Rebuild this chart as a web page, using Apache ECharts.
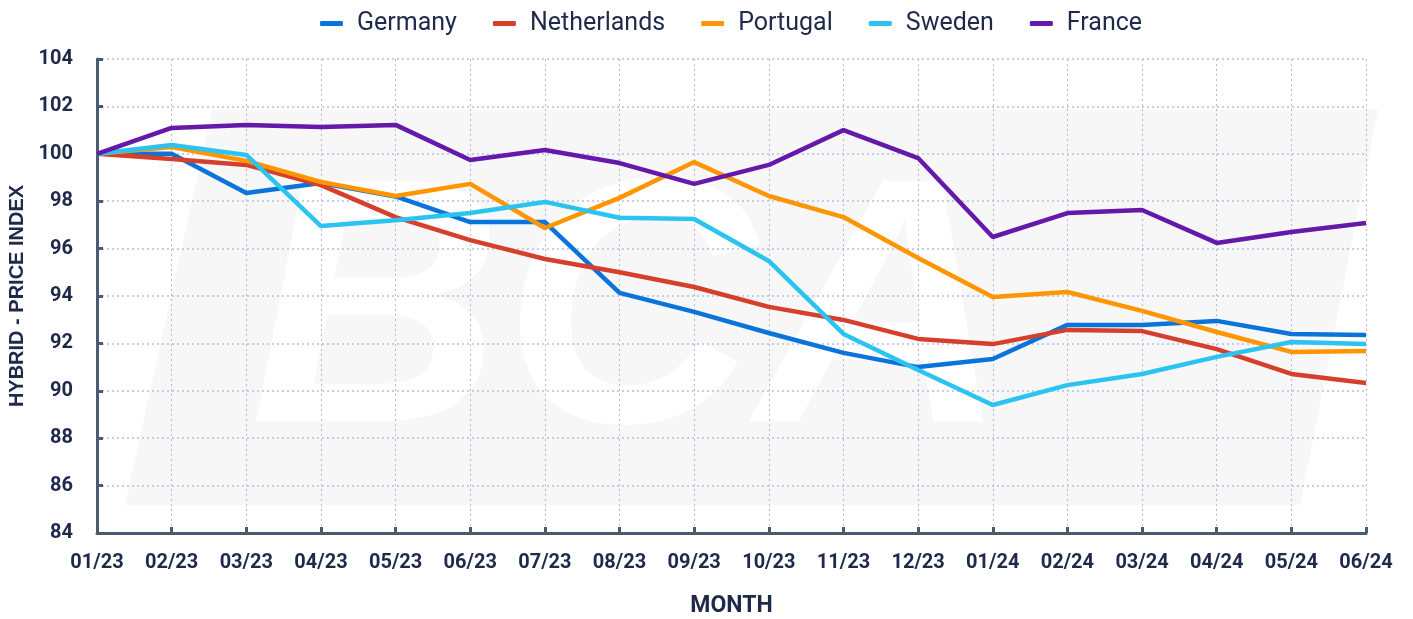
<!DOCTYPE html>
<html><head><meta charset="utf-8">
<script src="https://cdn.jsdelivr.net/npm/echarts@6/dist/echarts.min.js"></script>
<style>html,body{margin:0;padding:0;background:#fff}#c{width:1413px;height:619px}</style>
</head><body><div id="c"></div>
<script>
const months = ['01/23','02/23','03/23','04/23','05/23','06/23','07/23','08/23','09/23','10/23','11/23','12/23','01/24','02/24','03/24','04/24','05/24','06/24'];
const germany     = [100,100,98.35,98.77,98.2,97.12,97.12,94.13,93.33,92.44,91.6,91.0,91.34,92.78,92.78,92.95,92.4,92.35];
const netherlands = [100,99.78,99.53,98.68,97.33,96.36,95.56,95.0,94.38,93.54,92.99,92.19,91.97,92.57,92.52,91.76,90.71,90.33];
const portugal    = [100,100.29,99.7,98.81,98.22,98.73,96.87,98.14,99.65,98.22,97.33,95.6,93.96,94.17,93.37,92.48,91.64,91.68];
const sweden      = [100,100.37,99.95,96.95,97.2,97.5,97.97,97.3,97.25,95.48,92.4,90.88,89.4,90.24,90.71,91.43,92.06,91.97];
const france      = [100,101.09,101.22,101.13,101.22,99.74,100.16,99.61,98.73,99.53,101.0,99.82,96.49,97.5,97.63,96.24,96.7,97.08];
const seriesNames = ['Germany','Netherlands','Portugal','Sweden','France'];
const seriesData = [germany, netherlands, portugal, sweden, france];
const colors = ['#0a74da','#d63f2c','#ff9500','#2bc4f0','#6419ab'];

const chart = echarts.init(document.getElementById('c'));
const textColor = '#1f2a4a';
chart.setOption({
  animation: false,
  color: colors,
  graphic: [
    { type: 'polygon', z: -20, silent: true,
      shape: { points: [[212,110],[1378,110],[1300,505],[125,505]] },
      style: { fill: '#f7f7f7' } },
    { type: 'text', z: -19, silent: true, x: 250, y: 500,
      style: { text: 'BCA', font: 'italic 900 350px "Liberation Sans", Arial', fill: '#ffffff', verticalAlign: 'bottom' } }
  ],
  legend: {
    top: 6, left: 315, itemGap: 36, itemWidth: 23, itemHeight: 5, icon: 'roundRect',
    textStyle: { fontFamily: 'Roboto', fontSize: 25, color: textColor, padding: [0,0,0,9] }
  },
  grid: { left: 97, right: 47, top: 59, bottom: 86, containLabel: false, outerBoundsMode: 'none' },
  xAxis: {
    type: 'category', data: months, boundaryGap: false,
    name: 'MONTH', nameLocation: 'middle', nameGap: 62,
    nameTextStyle: { fontFamily: 'Roboto', fontWeight: 'bold', fontSize: 23, color: textColor },
    axisLine: { lineStyle: { color: '#4a5d70', width: 3 } },
    axisTick: { inside: true, length: 6, lineStyle: { color: '#4a5d70', width: 3 } },
    axisLabel: { margin: 20, fontFamily: 'Roboto', fontWeight: 'bold', fontSize: 20, color: textColor },
    splitLine: { show: true, lineStyle: { color: '#b7bccb', type: [2,3], width: 1 } }
  },
  yAxis: {
    type: 'value', min: 84, max: 104, interval: 2,
    name: 'HYBRID - PRICE INDEX', nameLocation: 'middle', nameGap: 69, nameRotate: 90,
    nameTextStyle: { fontFamily: '"Liberation Sans", Arial', fontWeight: 'bold', fontSize: 20, color: textColor },
    axisLine: { show: true, lineStyle: { color: '#4a5d70', width: 3 } },
    axisTick: { show: true, inside: true, length: 6, lineStyle: { color: '#4a5d70', width: 3 } },
    axisLabel: { margin: 24, fontFamily: 'Roboto', fontWeight: 'bold', fontSize: 20, color: textColor },
    splitLine: { show: true, lineStyle: { color: '#b3bdf0', type: [2,3], width: 1.5 } }
  },
  series: seriesNames.map((n, i) => ({
    name: n, type: 'line', data: seriesData[i], showSymbol: false, symbol: 'none',
    lineStyle: { width: 4.5, color: colors[i] }, itemStyle: { color: colors[i] }
  }))
});
</script></body></html>
